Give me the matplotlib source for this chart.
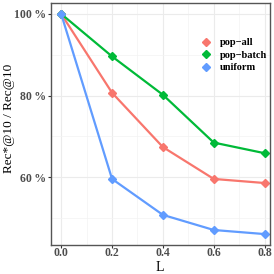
import matplotlib.pyplot as plt
from matplotlib.ticker import FuncFormatter, MultipleLocator

L = [0.0, 0.2, 0.4, 0.6, 0.8]
pop_all = [100, 80.7, 67.4, 59.6, 58.6]
pop_batch = [100, 89.6, 80.2, 68.5, 65.9]
uniform = [100, 59.6, 50.8, 47.1, 46.1]
names = ["pop\u2212all", "pop\u2212batch", "uniform"]
colors = ["#F8766D", "#00BA38", "#619CFF"]

plt.rcParams['font.family'] = ['Liberation Serif', 'DejaVu Serif']
plt.rcParams['font.weight'] = 'bold'

fig = plt.figure(figsize=(2.74, 2.74), dpi=100)
ax = fig.add_axes([51 / 274, 1 - 244.7 / 274, (269.7 - 51) / 274, (244.7 - 3.3) / 274])

for vals, name, c in zip([pop_all, pop_batch, uniform], names, colors):
    ax.plot(L, vals, color=c, lw=1.6, marker='D', ms=4.5, label=name)

ax.set_xlim(-0.04, 0.82)
ax.set_ylim(43.5, 102.6)
ax.xaxis.set_major_locator(MultipleLocator(0.2))
ax.xaxis.set_minor_locator(MultipleLocator(0.1))
ax.yaxis.set_major_locator(MultipleLocator(20))
ax.yaxis.set_minor_locator(MultipleLocator(10))
ax.xaxis.set_major_formatter(FuncFormatter(lambda v, p: f"{v:.1f}"))
ax.yaxis.set_major_formatter(FuncFormatter(lambda v, p: f"{v:.0f}\u2009%"))
ax.grid(which='major', color='#EBEBEB', lw=0.8)
ax.grid(which='minor', color='#F3F3F3', lw=0.5)
ax.set_axisbelow(True)
ax.tick_params(which='major', length=2.0, color='#333333', labelsize=8.5,
               labelcolor='#4D4D4D', pad=1.5)
ax.tick_params(axis='x', pad=0.0)
ax.tick_params(which='minor', length=0)
for s in ax.spines.values():
    s.set_color('#555555')
    s.set_linewidth(1.0)

ax.set_xlabel("L", fontsize=10, va='top')
ax.xaxis.set_label_coords(0.498, -0.068)
ax.set_ylabel("Rec*@10 / Rec@10", fontsize=9.5, va='center')
ax.yaxis.set_label_coords(-0.192, 0.525)

leg = ax.legend(loc='upper right', bbox_to_anchor=(1.03, 0.895), frameon=False,
                fontsize=7.5, handlelength=1.0, handletextpad=0.8, labelspacing=0.3)
for h in leg.legend_handles:
    h.set_linewidth(0)

fig.savefig("out.png", dpi=100)
